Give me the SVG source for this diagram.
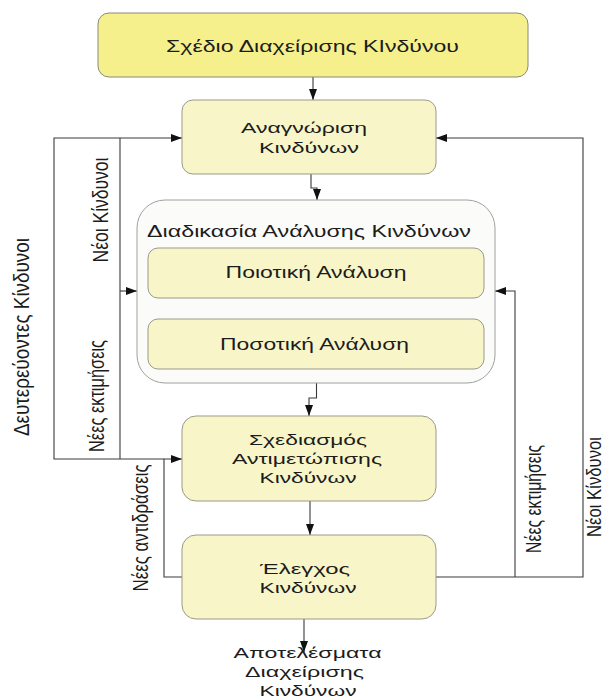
<svg xmlns="http://www.w3.org/2000/svg" width="604" height="699" viewBox="0 0 604 699">
<style>
.bg{fill:#ffffff}
.top{fill:#F6F08C;stroke:#8a8a7a;stroke-width:1}
.box{fill:#F8F6C9;stroke:#9a9a8a;stroke-width:1}
.cont{fill:#FBFBFA;stroke:#a0a0a0;stroke-width:1}
.t{font-family:"Liberation Sans",Arial,sans-serif;font-size:17px;fill:#1c1c1c;text-anchor:middle}
.m{font-family:"Liberation Sans",Arial,sans-serif;font-size:15.5px;fill:#1c1c1c;text-anchor:middle}
.lab{font-family:"Liberation Sans",Arial,sans-serif;font-size:16.5px;fill:#1c1c1c;text-anchor:middle}
.c{fill:none;stroke:#3a3a3a;stroke-width:1.1}
.a{marker-end:url(#ah)}
</style>
<defs>
<marker id="ah" markerUnits="userSpaceOnUse" markerWidth="12" markerHeight="10" refX="11" refY="4" orient="auto">
<path d="M0,0 L11,4 L0,8 Z" fill="#111"/>
</marker>
</defs>
<rect class="bg" x="0" y="0" width="604" height="699"/>

<g id="connectors">
<path class="c a" d="M313,77 V100"/>
<path class="c a" d="M311,174 V188 H317 V200"/>
<path class="c a" d="M316.5,298 V319"/>
<path class="c a" d="M316.5,383 V398 H309 V416"/>
<path class="c a" d="M310,501 V535"/>
<path class="c a" d="M304,619 V652"/>
<path class="c a" d="M182,577 H164 V459 H182"/>
<path class="c a" d="M164,459 H54 V138 H182"/>
<path class="c" d="M120,459 V138"/>
<path class="c a" d="M120,291 H137"/>
<path class="c a" d="M436,577 H583 V138 H436"/>
<path class="c a" d="M515,577 V291 H495"/>
</g>

<g id="plan">
<rect class="top" x="98" y="13" width="430" height="64" rx="11"/>
<text class="t" x="312.5" y="52" textLength="293" lengthAdjust="spacingAndGlyphs">Σχέδιο Διαχείρισης ΚΙνδύνου</text>
</g>

<g id="identification">
<rect class="box" x="182" y="100" width="254" height="74" rx="11"/>
<text class="m" x="304" y="133" textLength="126" lengthAdjust="spacingAndGlyphs">Αναγνώριση</text>
<text class="m" x="309" y="153" textLength="100" lengthAdjust="spacingAndGlyphs">Κινδύνων</text>
</g>

<g id="analysis">
<rect class="cont" x="137" y="200" width="358" height="183" rx="28"/>
<text class="t" x="309" y="237" textLength="324" lengthAdjust="spacingAndGlyphs">Διαδικασία Ανάλυσης Κινδύνων</text>
</g>

<g id="qualitative">
<rect class="box" x="148" y="248" width="336" height="50" rx="10"/>
<text class="t" x="316" y="278" textLength="181" lengthAdjust="spacingAndGlyphs">Ποιοτική Ανάλυση</text>
</g>

<g id="quantitative">
<rect class="box" x="148" y="319" width="336" height="50" rx="10"/>
<text class="t" x="314.5" y="350" textLength="189" lengthAdjust="spacingAndGlyphs">Ποσοτική Ανάλυση</text>
</g>

<g id="response">
<rect class="box" x="182" y="416" width="254" height="85" rx="14"/>
<text class="m" x="308" y="445" textLength="118" lengthAdjust="spacingAndGlyphs">Σχεδιασμός</text>
<text class="m" x="307" y="464" textLength="150" lengthAdjust="spacingAndGlyphs">Αντιμετώπισης</text>
<text class="m" x="308" y="483" textLength="97" lengthAdjust="spacingAndGlyphs">Κινδύνων</text>
</g>

<g id="control">
<rect class="box" x="182" y="535" width="254" height="84" rx="14"/>
<text class="m" x="305" y="574" textLength="90" lengthAdjust="spacingAndGlyphs">Έλεγχος</text>
<text class="m" x="308" y="593" textLength="97" lengthAdjust="spacingAndGlyphs">Κινδύνων</text>
</g>

<g id="results">
<text class="m" x="307.5" y="658" textLength="148" lengthAdjust="spacingAndGlyphs">Αποτελέσματα</text>
<text class="m" x="304.5" y="677" textLength="119" lengthAdjust="spacingAndGlyphs">Διαχείρισης</text>
<text class="m" x="308" y="696" textLength="97" lengthAdjust="spacingAndGlyphs">Κινδύνων</text>
</g>

<g id="labels">
<text class="lab" transform="translate(29,337) scale(1.38,1) rotate(-90)" x="0" y="0" textLength="198" lengthAdjust="spacingAndGlyphs">Δευτερεύοντες Κίνδυνοι</text>
<text class="lab" transform="translate(108,210) scale(1.38,1) rotate(-90)" x="0" y="0" textLength="105" lengthAdjust="spacingAndGlyphs">Νέοι Κίνδυνοι</text>
<text class="lab" transform="translate(104,396) scale(1.38,1) rotate(-90)" x="0" y="0" textLength="112" lengthAdjust="spacingAndGlyphs">Νέες εκτιμήσεις</text>
<text class="lab" transform="translate(148,528) scale(1.38,1) rotate(-90)" x="0" y="0" textLength="127" lengthAdjust="spacingAndGlyphs">Νέες αντιδράσεις</text>
<text class="lab" transform="translate(541,499) scale(1.38,1) rotate(-90)" x="0" y="0" textLength="108" lengthAdjust="spacingAndGlyphs">Νέες εκτιμήσεις</text>
<text class="lab" transform="translate(601,487) scale(1.2,1) rotate(-90)" x="0" y="0" textLength="100" lengthAdjust="spacingAndGlyphs">Νέοι Κίνδυνοι</text>
</g>
</svg>
